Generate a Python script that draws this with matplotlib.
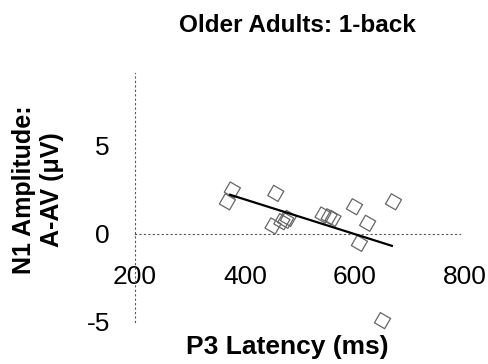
import numpy as np
import matplotlib
matplotlib.use("Agg")
import matplotlib.pyplot as plt

plt.rcParams['font.family'] = ['Liberation Sans', 'DejaVu Sans']

# P3 latency (ms) vs N1 amplitude difference A-AV (uV), older adults, 1-back
latency = [377, 368, 456, 451, 467, 479, 474, 542, 560, 553, 599, 623, 608, 670, 650]
amplitude = [2.47, 1.8, 2.28, 0.43, 0.67, 0.86, 0.75, 1.05, 0.86, 0.95, 1.52, 0.58, -0.56, 1.8, -4.95]

# regression line end points
fit_x = [373, 667]
fit_y = [2.2, -0.7]

xticks = [200, 400, 600, 800]
yticks = [-5, 0, 5]

W, H = 488, 364
fig = plt.figure(figsize=(W / 100, H / 100), dpi=100)
ax = fig.add_axes([107.5 / W, 1 - 330.3 / H, (481.5 - 107.5) / W, (330.3 - 66.3) / H])
ax.set_xlim(150, 830)
ax.set_ylim(-5.5, 9.5)

for side in ['top', 'right']:
    ax.spines[side].set_visible(False)
ax.spines['left'].set_position(('data', 200))
ax.spines['bottom'].set_position(('data', 0))
ax.spines['left'].set_bounds(-5.0, 9.1)
ax.spines['bottom'].set_bounds(200, 790)
for side in ['left', 'bottom']:
    ax.spines[side].set_linestyle((0, (1, 3)))
    ax.spines[side].set_color('#555555')
    ax.spines[side].set_linewidth(0.8)

ax.set_xticks(xticks)
ax.set_xticklabels([str(v) for v in xticks])
ax.set_yticks(yticks)
ax.set_yticklabels([str(v) for v in yticks])
ax.tick_params(axis='x', length=0, pad=23, labelsize=19)
ax.tick_params(axis='y', length=0, pad=18, labelsize=19)
ax.set_facecolor('none')

ax.scatter(latency, amplitude, marker=(4, 0, 15), s=12 ** 2,
           facecolors='none', edgecolors='#666666', linewidths=0.9, zorder=3)
ax.plot(fit_x, fit_y, color='black', linewidth=1.6, zorder=4)

fig.text(297 / W, 1 - 25 / H, 'Older Adults: 1-back', ha='center', va='center',
         fontsize=17.5, fontweight='bold')
fig.text(287 / W, 1 - 347 / H, 'P3 Latency (ms)', ha='center', va='center',
         fontsize=19, fontweight='bold')
fig.text(38 / W, 1 - 190 / H, 'N1 Amplitude:\nA-AV (\u03bcV)', ha='center', va='center',
         rotation=90, fontsize=18, fontweight='bold', linespacing=1.25)

fig.savefig('out.png', dpi=100)
